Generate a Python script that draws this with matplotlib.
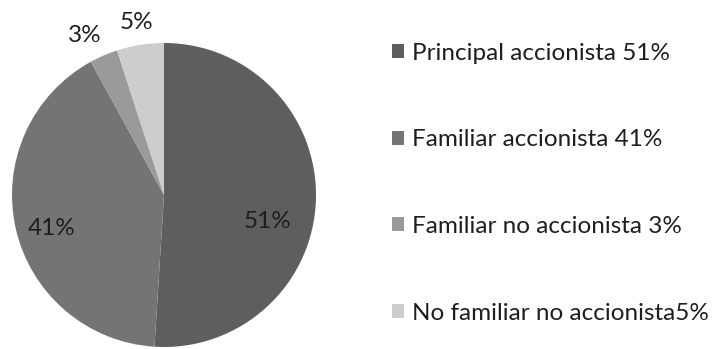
import numpy as np
import matplotlib
matplotlib.use("Agg")
import matplotlib.pyplot as plt

categories = ["Principal accionista 51%", "Familiar accionista 41%",
              "Familiar no accionista 3%", "No familiar no accionista5%"]
values = [51, 41, 3, 5]
pct_labels = ["51%", "41%", "3%", "5%"]
colors = ["#5e5e5e", "#747474", "#9a9a9a", "#cdcdcd"]
# label placement: radius (pie units) and angular nudge (deg) per slice
label_radius = [0.70, 0.77, 1.17, 1.15]
label_nudge = [-12.5, 4.0, 3.0, 0.0]

plt.rcParams['font.family'] = ['Lato', 'DejaVu Sans']

fig = plt.figure(figsize=(7.2, 3.49), dpi=100)
ax = fig.add_axes([12 / 720, 2 / 349, 304 / 720, 304 / 349])
wedges, _ = ax.pie(values, colors=colors, startangle=90, counterclock=False,
                   radius=1.0, wedgeprops=dict(linewidth=0))
ax.set_xlim(-1, 1)
ax.set_ylim(-1, 1)
ax.set_aspect("equal")
ax.axis("off")

for w, txt, r, d in zip(wedges, pct_labels, label_radius, label_nudge):
    mid = np.deg2rad((w.theta1 + w.theta2) / 2 + d)
    ax.text(r * np.cos(mid), r * np.sin(mid), txt, ha="center", va="center",
            fontsize=17.5, color="#1e1e1e", clip_on=False)

leg = fig.legend(wedges, categories, loc="upper left",
                 bbox_to_anchor=(382 / 720, 1 - 33 / 349), frameon=False,
                 fontsize=17.5, labelspacing=2.7, handlelength=0.5,
                 handleheight=0.5, handletextpad=0.35, borderaxespad=0)
for t in leg.get_texts():
    t.set_color("#1e1e1e")

fig.savefig("out.png", dpi=100, facecolor="white")
